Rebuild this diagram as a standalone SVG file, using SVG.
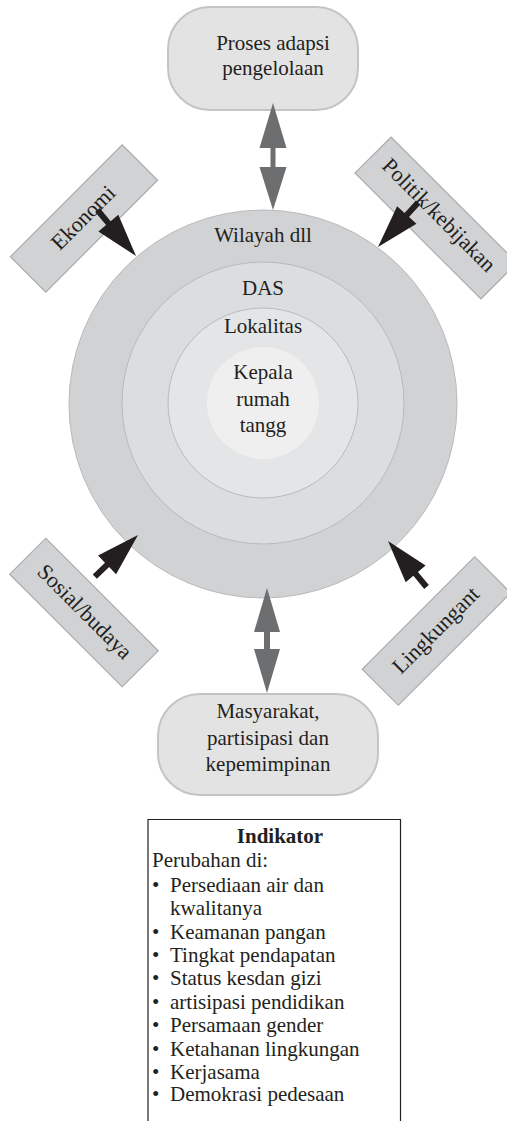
<svg xmlns="http://www.w3.org/2000/svg" width="507" height="1121" viewBox="0 0 507 1121">
  <defs>
    <style>
      text { font-family: "Liberation Serif", "Times New Roman", "DejaVu Serif", serif; fill: #231f20; }
      .lbl { font-size: 21px; text-anchor: middle; }
      .tagtxt { font-size: 22px; text-anchor: middle; }
      .ind { font-size: 21px; }
      .pill { fill: #e3e3e4; stroke: #c4c4c6; stroke-width: 2; }
      .tag { fill: #d1d2d4; stroke: #a9aaac; stroke-width: 1.2; }
      .ring { stroke: #b9babc; stroke-width: 1; }
      .push { fill: #231f20; }
      .link { fill: #6d6e70; }
    </style>
    <!-- solid arrow pointing along +x, tip at origin -->
    <polygon id="push" points="0,0 -43,-13 -43,-3 -60,-3 -60,3 -43,3 -43,13"/>
  </defs>

  <!-- nested scale rings -->
  <g id="wilayah">
    <circle class="ring" cx="263" cy="404" r="194" fill="#d1d2d4"/>
    <text class="lbl" x="263" y="242">Wilayah dll</text>
  </g>
  <g id="das">
    <circle class="ring" cx="263" cy="403" r="141" fill="#dcdddf"/>
    <text class="lbl" x="263" y="295">DAS</text>
  </g>
  <g id="lokalitas">
    <circle class="ring" cx="263" cy="403" r="95" fill="#e4e5e6"/>
    <text class="lbl" x="263" y="333">Lokalitas</text>
  </g>
  <g id="kepala">
    <circle cx="263" cy="403" r="56" fill="#efefef"/>
    <text class="lbl" x="263" y="379">Kepala</text>
    <text class="lbl" x="263" y="406">rumah</text>
    <text class="lbl" x="263" y="432">tangg</text>
  </g>

  <!-- outer process boxes -->
  <g id="proses">
    <rect class="pill" x="168" y="7" width="190" height="103" rx="42"/>
    <text class="lbl" x="273" y="50">Proses adapsi</text>
    <text class="lbl" x="273" y="75">pengelolaan</text>
  </g>
  <g id="masyarakat">
    <rect class="pill" x="158" y="694" width="220" height="101" rx="42"/>
    <text class="lbl" x="268" y="718">Masyarakat,</text>
    <text class="lbl" x="268" y="745">partisipasi dan</text>
    <text class="lbl" x="268" y="771">kepemimpinan</text>
  </g>

  <!-- driver tags -->
  <g id="ekonomi" transform="translate(84 218.5) rotate(-45)">
    <rect class="tag" x="-79" y="-25" width="158" height="50"/>
    <text class="tagtxt" x="0" y="6">Ekonomi</text>
  </g>
  <g id="politik" transform="translate(436 218) rotate(45)">
    <rect class="tag" x="-89" y="-25.5" width="178" height="51"/>
    <text class="tagtxt" x="0" y="3">Politik/kebijakan</text>
  </g>
  <g id="sosial" transform="translate(84 612.5) rotate(45)">
    <rect class="tag" x="-79.5" y="-25.5" width="159" height="51"/>
    <text class="tagtxt" x="0" y="6">Sosial/budaya</text>
  </g>
  <g id="lingkungan" transform="translate(436.5 631) rotate(-45)">
    <rect class="tag" x="-79.5" y="-25.5" width="159" height="51"/>
    <text class="tagtxt" x="0" y="6">Lingkungant</text>
  </g>

  <!-- connectors -->
  <g id="connectors">
    <use href="#push" class="push" transform="translate(136 256) rotate(50)"/>
    <use href="#push" class="push" transform="translate(378 247) rotate(132)"/>
    <use href="#push" class="push" transform="translate(138 535) rotate(-44)"/>
    <use href="#push" class="push" transform="translate(388 541) rotate(-130)"/>
    <!-- two-way links to the process boxes -->
    <polygon class="link" points="273,103 286.5,148 275.5,148 275.5,167 286.5,167 273,210 259.5,167 270.5,167 270.5,148 259.5,148"/>
    <polygon class="link" points="267,588 280,632 270,632 270,649 280,649 267,693 254,649 264,649 264,632 254,632"/>
  </g>

  <!-- indicator list -->
  <g id="indikator">
    <path d="M148 1121 V819.5 H400.5 V1121" fill="none" stroke="#231f20" stroke-width="1.2"/>
    <text class="ind" x="280" y="843" text-anchor="middle" font-weight="bold">Indikator</text>
    <text class="ind" x="152" y="867">Perubahan di:</text>
    <text class="ind" x="152" y="892">•</text><text class="ind" x="170" y="892">Persediaan air dan</text>
    <text class="ind" x="170" y="915">kwalitanya</text>
    <text class="ind" x="152" y="939">•</text><text class="ind" x="170" y="939">Keamanan pangan</text>
    <text class="ind" x="152" y="962">•</text><text class="ind" x="170" y="962">Tingkat pendapatan</text>
    <text class="ind" x="152" y="985">•</text><text class="ind" x="170" y="985">Status kesdan gizi</text>
    <text class="ind" x="152" y="1009">•</text><text class="ind" x="170" y="1009">artisipasi pendidikan</text>
    <text class="ind" x="152" y="1032">•</text><text class="ind" x="170" y="1032">Persamaan gender</text>
    <text class="ind" x="152" y="1056">•</text><text class="ind" x="170" y="1056">Ketahanan lingkungan</text>
    <text class="ind" x="152" y="1079">•</text><text class="ind" x="170" y="1079">Kerjasama</text>
    <text class="ind" x="152" y="1101">•</text><text class="ind" x="170" y="1101">Demokrasi pedesaan</text>
  </g>
</svg>
